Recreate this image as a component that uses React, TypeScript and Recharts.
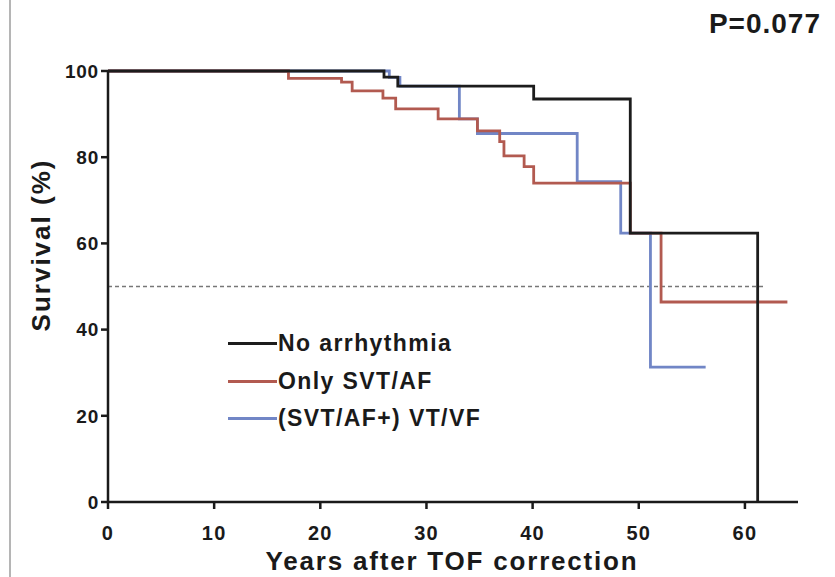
import { LineChart, Line, XAxis, YAxis, ReferenceLine, Legend, Label } from 'recharts';

const FONT = '"Liberation Sans", Arial, Helvetica, sans-serif';

const xTicks = [0, 10, 20, 30, 40, 50, 60];
const yTicks = [0, 20, 40, 60, 80, 100];

// Kaplan-Meier steps (years, survival %)
const noArrYears = [0, 26.0, 27.3, 40.1, 49.2, 61.2];
const noArrSurv = [100, 98.6, 96.5, 93.5, 62.4, 0];

const svtYears = [0, 17.0, 22.0, 23.0, 25.9, 27.1, 31.1, 34.8, 36.9, 37.3, 39.2, 40.1, 49.2, 52.1, 64.0];
const svtSurv = [100, 98.3, 97.4, 95.4, 93.7, 91.2, 88.9, 86.1, 83.6, 80.3, 77.8, 74.0, 62.4, 46.4, 46.4];

const vtYears = [0, 26.5, 27.5, 33.1, 34.8, 44.2, 48.3, 51.1, 56.3];
const vtSurv = [100, 98.5, 96.5, 88.9, 85.5, 74.3, 62.4, 31.3, 31.3];

const seriesNames = ['No arrhythmia', 'Only SVT/AF', '(SVT/AF+) VT/VF'];
const seriesColors = ['#1c1c1c', '#b25a50', '#7186c6'];

const toSteps = (years: number[], surv: number[]) => years.map((t, i) => ({ t, s: surv[i] }));

const renderLegend = () => (
  <div style={{ display: 'flex', flexDirection: 'column' }}>
    {seriesNames.map((name, i) => (
      <div key={name} style={{ display: 'flex', alignItems: 'center', height: 37.5 }}>
        <span style={{ width: 49, borderTop: `3px solid ${seriesColors[i]}`, marginRight: 1 }} />
        <span style={{ fontSize: 23, fontWeight: 700, letterSpacing: 1.4, color: '#1a1a1a', fontFamily: FONT }}>
          {name}
        </span>
      </div>
    ))}
  </div>
);

const App = () => {
  return (
    <div style={{ position: 'absolute', left: 0, top: 0, width: 835, height: 577, background: '#fff' }}>
      <div style={{ position: 'absolute', left: 9, top: 0, width: 2, height: 577, background: '#b5b5b5' }} />
      <svg style={{ position: 'absolute', left: 0, top: 0 }} width={835} height={60}>
        <text x={821} y={33} textAnchor="end" fontFamily={FONT} fontWeight={700} fontSize={28} letterSpacing={1} fill="#1a1a1a">
          P=0.077
        </text>
      </svg>
      <LineChart
        width={835}
        height={577}
        margin={{ top: 71, right: 37, left: 0, bottom: 0 }}
        style={{ fontFamily: FONT, fontWeight: 700 }}
      >
        <XAxis
          type="number"
          dataKey="t"
          domain={[0, 65]}
          ticks={xTicks}
          height={75}
          stroke="#1a1a1a"
          strokeWidth={2.5}
          tickSize={7}
          tickMargin={17}
          tick={{ fontSize: 20, fill: '#1a1a1a', letterSpacing: 1.2 }}
          tickLine={{ stroke: '#1a1a1a', strokeWidth: 2.5 }}
        >
          <Label
            content={() => (
              <text x={452} y={570} textAnchor="middle" fontSize={26} fontWeight={700} letterSpacing={1.8} fill="#1a1a1a">
                Years after TOF correction
              </text>
            )}
          />
        </XAxis>
        <YAxis
          type="number"
          domain={[0, 100]}
          ticks={yTicks}
          width={108}
          stroke="#1a1a1a"
          strokeWidth={2.5}
          tickSize={7}
          tickMargin={2}
          tick={{ fontSize: 19, fill: '#1a1a1a', letterSpacing: 0.8 }}
          tickLine={{ stroke: '#1a1a1a', strokeWidth: 2.5 }}
        >
          <Label
            content={() => (
              <text
                x={50}
                y={245}
                transform="rotate(-90 50 245)"
                textAnchor="middle"
                fontSize={26}
                fontWeight={700}
                letterSpacing={2}
                fill="#1a1a1a"
              >
                Survival (%)
              </text>
            )}
          />
        </YAxis>
        <ReferenceLine
          segment={[{ x: 0, y: 50 }, { x: 61.8, y: 50 }]}
          stroke="#777"
          strokeWidth={1.5}
          strokeDasharray="4 3"
        />
        <Line
          data={toSteps(vtYears, vtSurv)}
          dataKey="s"
          name={seriesNames[2]}
          type="stepAfter"
          stroke={seriesColors[2]}
          strokeWidth={2.8}
          dot={false}
          isAnimationActive={false}
        />
        <Line
          data={toSteps(svtYears, svtSurv)}
          dataKey="s"
          name={seriesNames[1]}
          type="stepAfter"
          stroke={seriesColors[1]}
          strokeWidth={2.8}
          dot={false}
          isAnimationActive={false}
        />
        <Line
          data={toSteps(noArrYears, noArrSurv)}
          dataKey="s"
          name={seriesNames[0]}
          type="stepAfter"
          stroke={seriesColors[0]}
          strokeWidth={2.8}
          dot={false}
          isAnimationActive={false}
        />
        <Legend
          layout="vertical"
          align="center"
          verticalAlign="middle"
          content={renderLegend}
          wrapperStyle={{ left: 228, top: 325, width: 'auto' }}
        />
      </LineChart>
    </div>
  );
};

export default App;
